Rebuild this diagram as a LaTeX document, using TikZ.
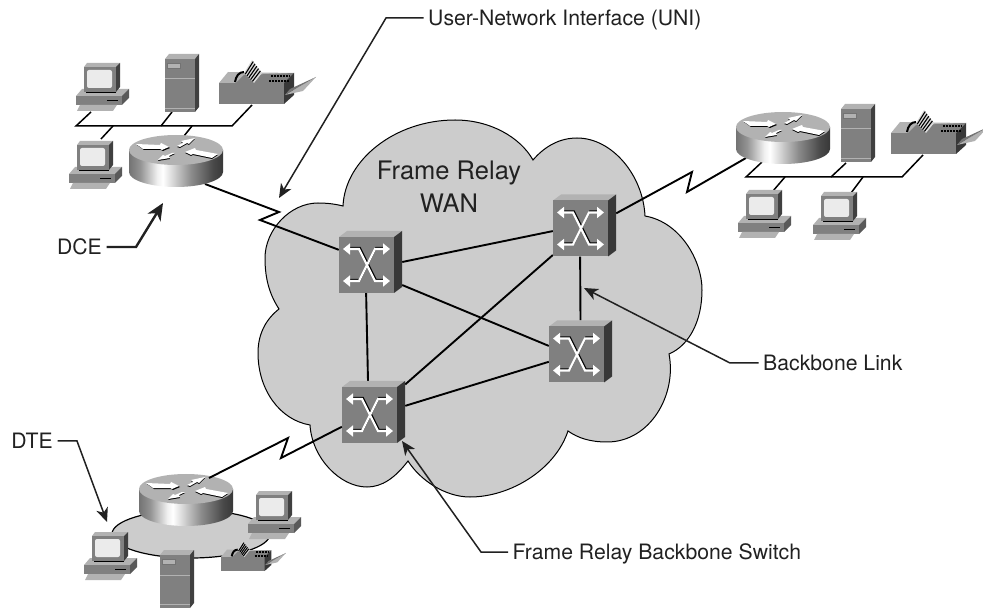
\documentclass[tikz,border=0pt]{standalone}
\usepackage{fontspec}
\setmainfont{TeX Gyre Heros}
\usetikzlibrary{arrows.meta,calc}
\pgfdeclarehorizontalshading{rtrside}{100bp}{color(0bp)=(black!55); color(25bp)=(black!55); color(31bp)=(black!42); color(40bp)=(black!6); color(43bp)=(white); color(47bp)=(black!12); color(58bp)=(black!45); color(70bp)=(black!72); color(75bp)=(black!78); color(100bp)=(black!78)}
\definecolor{ink}{gray}{0.13}
\definecolor{cloudgray}{gray}{0.80}
\definecolor{facegray}{gray}{0.50}
\definecolor{lightface}{gray}{0.70}
\definecolor{darkface}{gray}{0.22}
\tikzset{
  x=1pt,y=-1pt,
  lbl/.style={font=\fontsize{21.2}{24}\selectfont,text=ink,inner ysep=0pt,inner xsep=4.5pt,text height=15pt,text depth=0pt},
  devbox/.style={rectangle,inner sep=0pt,minimum width=63pt,minimum height=62pt},
  link/.style={draw=black,line width=1.9pt,line join=miter},
  lan/.style={draw=black,line width=1.5pt},
  ptr/.style={draw=ink,line width=1.5pt,-{Stealth[length=14pt,width=12pt,inset=4pt]}},
  bigptr/.style={draw=ink,line width=2.4pt,-{Stealth[length=17pt,width=15pt,inset=5pt]}},
  computer/.pic={
    \fill[lightface] (-8,29)--(-2,22)--(45,22)--(38,29)--cycle;
    \fill[facegray] (-8,29) rectangle (38,38);
    \fill[black!65] (38,29)--(45,22)--(45,31)--(38,38)--cycle;
    \draw[black,line width=.8pt] (23,33)--(34,33);
    \fill[lightface] (-7,44)--(-4,38)--(33,38)--(29,44)--cycle;
    \fill[lightface] (0,0)--(3,-4)--(36,-4)--(32,0)--cycle;
    \fill[black!75] (32,0)--(36,-4)--(36,20)--(32,25)--cycle;
    \fill[facegray] (0,0) rectangle (32,25);
    \draw[black,line width=.8pt] (2,25)--(32,25);
    \fill[black!8,rounded corners=2pt] (3,3) rectangle (28,21);
  },
  serverbox/.pic={
    \fill[lightface] (0,0)--(4,-5)--(34,-5)--(30,0)--cycle;
    \fill[black!75] (30,0)--(34,-5)--(34,48)--(30,53)--cycle;
    \fill[facegray] (0,0) rectangle (30,53);
    \fill[lightface] (2,4) rectangle (15,9);
    \draw[black!55,line width=.6pt] (2,4) rectangle (15,9);
    \draw[lightface,line width=1pt] (0,20)--(30,20);
    \draw[lightface,line width=1.6pt] (0,49.5)--(30,49.5);
  },
  faxmachine/.pic={
    \fill[lightface] (0,0)--(9,-11)--(75,-10)--(65,0)--cycle;
    \fill[facegray] (25,-8)--(75,-10)--(65,0)--(17,0)--cycle;
    \fill[facegray] (0,0) rectangle (65,21);
    \fill[darkface] (65,0)--(75,-10)--(75,12)--(65,21)--cycle;
    \fill[lightface] (66,12)--(97,-6)--(84,8)--cycle;
    \fill[black!55] (66,12)--(71,6)--(97,-6)--cycle;
    \draw[black,line width=2pt] (16,-1) .. controls (17,-7) and (20,-11) .. (25,-11);
    \fill[black!15] (25,-10)--(33,-23)--(43,-10)--(35,0)--cycle;
    \foreach \t in {0.12,0.3,0.48,0.66,0.84}
      \draw[black,line width=1.1pt] ($(25,-10)!\t!(35,0)$)--($(33,-23)!\t!(43,-10)$);
    \draw[black,line width=2pt,dash pattern=on 2pt off 1pt] (52,-7)--(71,-7);
    \draw[black,line width=2pt,dash pattern=on 2pt off 1pt] (50,-2)--(70,-2);
  },
  routerdisc/.pic={
    \shade[shading=rtrside] (-47,0)--(-47,22) arc[start angle=180,end angle=0,x radius=47,y radius=15]--(47,0)--cycle;
    \fill[lightface] (0,0) ellipse[x radius=47,y radius=15];
    \fill[black] (-39,-5)--(-15,-4)--(-14,-6)--(-6,-2)--(-13,1)--(-15,0)--(-32,0)--cycle;
    \fill[white] (-40,-6)--(-16,-5)--(-15,-7)--(-7,-3)--(-14,0)--(-16,-1)--(-33,-1)--cycle;
    \fill[black] (1,-3)--(7,-6)--(5,-8)--(19,-11)--(13,-5)--(11,-6)--(4,-2)--cycle;
    \fill[white] (1,-4)--(7,-7)--(5,-9)--(19,-12)--(13,-6)--(11,-7)--(4,-3)--cycle;
    \fill[black] (42,5)--(20,1)--(19,-1)--(9,3)--(15,6)--(17,5)--(36,9)--cycle;
    \fill[white] (42,4)--(20,0)--(19,-2)--(9,2)--(15,5)--(17,4)--(36,8)--cycle;
    \fill[black] (-1,4)--(-7,7)--(-6,9)--(-18,11)--(-13,6)--(-11,7)--(-4,4)--cycle;
    \fill[white] (-1,3)--(-7,6)--(-6,8)--(-18,10)--(-13,5)--(-11,6)--(-4,3)--cycle;
  },
  swunit/.pic={
    \begin{scope}[shift={(-31.5,-25)}]
    \fill[lightface] (0,0)--(8,-6)--(63,-6)--(55,0)--cycle;
    \fill[darkface] (55,0)--(63,-6)--(63,50)--(55,56)--cycle;
    \fill[facegray] (0,0) rectangle (55,56);
    \begin{scope}[shift={(1,-1.4)}]
      \draw[black,line width=1.6pt] (10,12)--(20,12)--(36,44)--(45,44);
      \draw[black,line width=1.6pt] (10,44)--(20,44)--(36,12)--(45,12);
    \end{scope}
    \draw[white,line width=2.1pt,{Triangle[length=7pt,width=11pt]}-{Triangle[length=7pt,width=11pt]}] (4,12)--(20,12)--(36,44)--(51,44);
    \draw[white,line width=2.1pt,{Triangle[length=7pt,width=11pt]}-{Triangle[length=7pt,width=11pt]}] (4,44)--(20,44)--(36,12)--(51,12);
    \end{scope}
  }
}
\begin{document}
\begin{tikzpicture}
\useasboundingbox (0,0) rectangle (983,609);
% cloud
\node[inner sep=0pt] (wan) at (449,187) {};
\draw[fill=cloudgray,draw=black,line width=1pt]
  (343,206) .. controls (345,160) and (395,120) .. (455,120)
  .. controls (490,120) and (520,137) .. (533,160)
  .. controls (545,146) and (560,138) .. (577,138)
  .. controls (612,138) and (643,175) .. (645,216)
  .. controls (680,222) and (702,260) .. (702,290)
  .. controls (702,320) and (690,345) .. (669,354)
  .. controls (677,395) and (650,442) .. (607,442)
  .. controls (590,442) and (578,438) .. (568,431)
  .. controls (555,470) and (510,497) .. (470,497)
  .. controls (445,497) and (420,480) .. (408,461)
  .. controls (395,478) and (382,487) .. (367,487)
  .. controls (340,487) and (312,458) .. (310,425)
  .. controls (280,420) and (258,390) .. (258,353)
  .. controls (258,335) and (265,320) .. (279,309)
  .. controls (270,295) and (265,280) .. (265,258)
  .. controls (265,230) and (290,203) .. (318,203)
  .. controls (327,203) and (335,204) .. (343,206) -- cycle;
% device anchors
\node[devbox] (s1) at (370.5,262) {};
\node[devbox] (s2) at (584.5,225.5) {};
\node[devbox] (s3) at (580.5,351.5) {};
\node[devbox] (s4) at (373.5,412) {};
\coordinate (r1) at (176,150);
\coordinate (r2) at (783,127);
\coordinate (r3) at (186,489);
\coordinate (r1port) at (205,184);
\coordinate (r2port) at (746,158);
\coordinate (r3port) at (209,478);
\coordinate (z1a) at (279,212);
\coordinate (z1b) at (260,220);
\coordinate (z2a) at (692,172);
\coordinate (z2b) at (687,192);
\coordinate (z3a) at (288,438);
\coordinate (z3b) at (281,458);
% backbone links
\draw[link] (s1.east)--(s2.190);
\draw[link] (s1.-36)--(s3.170);
\draw[link] (s1.-98)--(s4.100);
\draw[link] (s2.-98)--(s3.90);
\draw[link] (s2.223)--(s4.41);
\draw[link] (s3.198)--(s4.11);
% access links
\draw[link] (r1port)--(z1a)--(z1b)--(s1.159);
\draw[link] (r2port)--(z2b)--(z2a)--(s2.21.6);
% left-top LAN
\coordinate (la) at (76,126); \coordinate (lb) at (232,126);
\coordinate (la1) at (91,112); \coordinate (la2) at (172,112); \coordinate (la2b) at (161,126);
\coordinate (la3) at (252,105); \coordinate (la4a) at (113,126); \coordinate (la4) at (101,139);
\coordinate (la5a) at (192,126); \coordinate (la5) at (184,136);
\draw[lan] (la1)--(la)--(lb)--(la3);
\draw[lan] (la2)--(la2b);
\draw[lan] (la4a)--(la4);
\draw[lan] (la5a)--(la5);
% right LAN
\coordinate (ra) at (746,177); \coordinate (rb) at (902,177);
\coordinate (ra1) at (762,162); \coordinate (ra2) at (846,163); \coordinate (ra2b) at (831,177);
\coordinate (ra3) at (923,155); \coordinate (ra4a) at (785,177); \coordinate (ra4) at (773,191);
\coordinate (ra5a) at (863,177); \coordinate (ra5) at (851,193);
\draw[lan] (ra1)--(ra)--(rb)--(ra3);
\draw[lan] (ra2)--(ra2b);
\draw[lan] (ra4a)--(ra4);
\draw[lan] (ra5a)--(ra5);
% bottom LAN disc
\draw[fill=cloudgray,draw=black,line width=1.2pt] (191,534) ellipse[x radius=79,y radius=24];
% devices
\pic at (s1) {swunit};
\pic at (s2) {swunit};
\pic at (s3) {swunit};
\pic at (s4) {swunit};
\pic at (r1) {routerdisc};
\pic at (r2) {routerdisc};
\pic at (r3) {routerdisc};
\pic at (84,67) {computer};
\pic at (77,145) {computer};
\pic at (746,194) {computer};
\pic at (821,196) {computer};
\pic at (92,536) {computer};
\pic at (256,495) {computer};
\pic at (165,59) {serverbox};
\pic at (841,109) {serverbox};
\pic at (160,555) {serverbox};
\pic at (219,83) {faxmachine};
\pic at (891,133) {faxmachine};
\pic[scale=.67] at (221,557) {faxmachine};
\draw[link] (r3port)--(z3a)--(z3b)--(s4.205.5);
% labels
\node[font=\fontsize{25.5}{33}\selectfont,text=ink,align=center,inner sep=0pt] at (wan) {Frame Relay\\WAN};
\node[lbl,anchor=west] (uni) at (423.5,18) {User-Network Interface (UNI)};
\node[lbl,anchor=east] (dce) at (106.5,247) {DCE};
\node[lbl,anchor=east] (dte) at (57.5,441) {DTE};
\node[lbl,anchor=west] (bbl) at (758.5,363) {Backbone Link};
\node[lbl,anchor=west] (frs) at (508,552) {Frame Relay Backbone Switch};
% pointers
\coordinate (unic) at (386,18); \coordinate (unit) at (279,198);
\coordinate (dcec) at (136,247); \coordinate (dcet) at (163,203);
\coordinate (dtec) at (77,441); \coordinate (dtet) at (107,522);
\coordinate (bblc) at (730,363); \coordinate (bblt) at (584,288);
\coordinate (frsc) at (481,552); \coordinate (frst) at (402,441);
\draw[ptr] (uni.west)--(unic)--(unit);
\draw[bigptr] (dce.east)--(dcec)--(dcet);
\draw[ptr] (dte.east)--(dtec)--(dtet);
\draw[ptr] (bbl.west)--(bblc)--(bblt);
\draw[ptr] (frs.west)--(frsc)--(frst);
\end{tikzpicture}
\end{document}
